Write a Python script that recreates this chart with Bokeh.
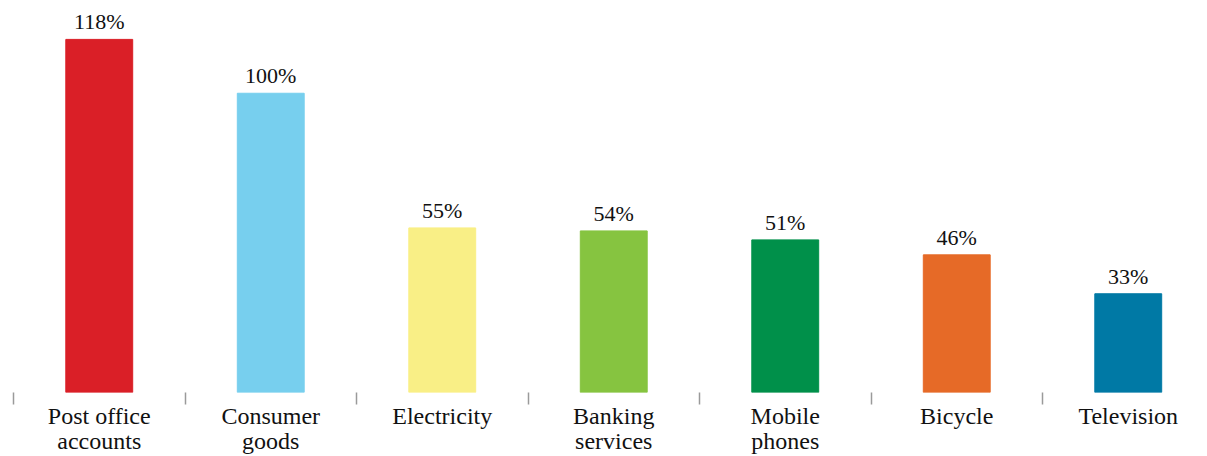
from bokeh.plotting import figure
from bokeh.models import ColumnDataSource, FixedTicker, Range1d
from bokeh.embed import file_html
from bokeh.resources import INLINE
from bokeh.core.properties import value

categories = ["Post office\naccounts", "Consumer\ngoods", "Electricity", "Banking\nservices",
              "Mobile\nphones", "Bicycle", "Television"]
values = [118, 100, 55, 54, 51, 46, 33]
labels = ["118%", "100%", "55%", "54%", "51%", "46%", "33%"]
colors = ["#DA1F27", "#77CFEE", "#F9EF86", "#86C440", "#00904A", "#E66A27", "#0079A5"]

xs = [i + 0.5 for i in range(len(categories))]
src = ColumnDataSource(dict(x=xs, top=values, label=labels, color=colors))

p = figure(width=1207, height=456, output_backend="svg", toolbar_location=None,
           x_range=Range1d(0, 1194 / 171.5), y_range=Range1d(0, 131.0),
           min_border_left=13, min_border_right=0, min_border_top=0, min_border_bottom=0)
p.vbar(x="x", top="top", width=0.39, bottom=0, color="color", source=src)
p.text(x="x", y="top", text="label", source=src, text_align="center", text_baseline="bottom",
       y_offset=-5, text_font=value("Liberation Serif"), text_font_size="22px", text_color="#111111")

p.yaxis.visible = False
p.grid.visible = False
p.outline_line_color = None
ax = p.xaxis[0]
ax.ticker = FixedTicker(ticks=xs, minor_ticks=list(range(len(categories))))
ax.major_label_overrides = {x: c for x, c in zip(xs, categories)}
ax.axis_line_color = None
ax.major_tick_line_color = None
ax.major_tick_out = 0
ax.major_tick_in = 0
ax.minor_tick_out = 12
ax.minor_tick_in = 0
ax.minor_tick_line_color = "#9a9a9a"
ax.minor_tick_line_width = 1.5
ax.major_label_standoff = -2
ax.major_label_text_font = "Liberation Serif"
ax.major_label_text_font_size = "24px"
ax.major_label_text_color = "#111111"
ax.major_label_text_line_height = 0.98

open("out.html", "w").write(file_html(p, INLINE))
